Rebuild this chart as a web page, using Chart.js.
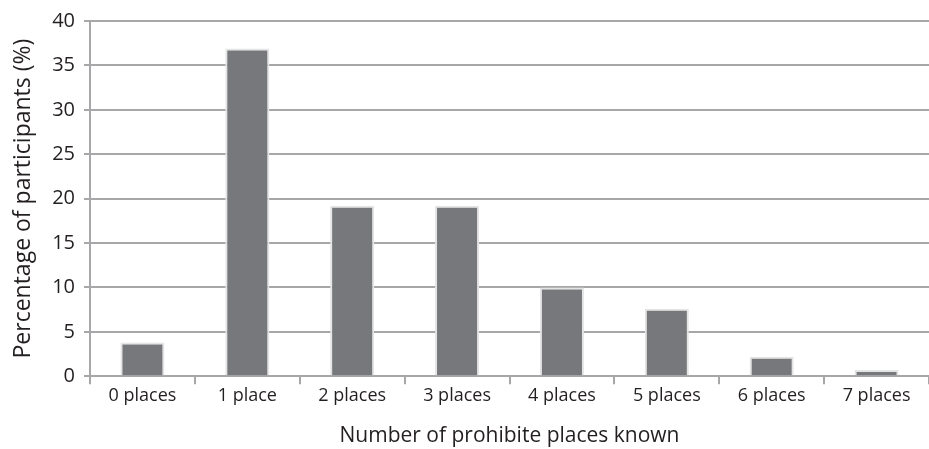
<!DOCTYPE html>
<html>
<head>
<meta charset="utf-8">
<script src="https://cdn.jsdelivr.net/npm/chart.js@4.4.1/dist/chart.umd.min.js"></script>
<style>
	html, body { margin: 0; padding: 0; background: #fff; }
	#wrap { width: 929px; height: 449px; position: relative; }
</style>
</head>
<body>
<div id="wrap"><canvas id="canvas"></canvas></div>
<script>
var categories = ["0 places", "1 place", "2 places", "3 places", "4 places", "5 places", "6 places", "7 places"];
var percentages = [3.8, 36.9, 19.2, 19.2, 10.0, 7.6, 2.2, 0.7];
var yTicks = [0, 5, 10, 15, 20, 25, 30, 35, 40];

var fontFamily = "'Open Sans', 'Noto Sans', sans-serif";
var gridGray = "#a7a7a9";

var ctx = document.getElementById("canvas").getContext("2d");
var chart = new Chart(ctx, {
	type: 'bar',
	data: {
		labels: categories,
		datasets: [{
			label: "Percentage of participants (%)",
			data: percentages,
			backgroundColor: "#77787b",
			borderColor: "#e4e4e4",
			borderWidth: 2,
			barPercentage: 0.42,
			categoryPercentage: 1.0
		}]
	},
	options: {
		responsive: true,
		maintainAspectRatio: false,
		animation: false,
		layout: { padding: { top: 10, right: 0, bottom: 0, left: 10 } },
		plugins: {
			legend: { display: false },
			tooltip: { enabled: false }
		},
		scales: {
			x: {
				offset: true,
				grid: {
					offset: true,
					drawOnChartArea: false,
					color: gridGray,
					lineWidth: 2,
					tickLength: 8
				},
				border: { color: gridGray, width: 2 },
				ticks: { color: "#231f20", font: { family: fontFamily, size: 18 }, padding: 1, maxRotation: 0 },
				title: {
					display: true,
					text: "Number of prohibite places known",
					color: "#231f20",
					font: { family: fontFamily, size: 21 },
					padding: { top: 16, bottom: 0 }
				}
			},
			y: {
				min: 0,
				max: 40,
				afterBuildTicks: function(scale) {
					scale.ticks = yTicks.map(function(v) { return { value: v }; });
				},
				afterFit: function(scale) { scale.width = 80; },
				grid: {
					color: gridGray,
					lineWidth: 2,
					tickLength: 6
				},
				border: { color: gridGray, width: 2 },
				ticks: { color: "#231f20", font: { family: fontFamily, size: 20 }, padding: 9 },
				title: {
					display: true,
					text: "Percentage of participants (%)",
					color: "#231f20",
					font: { family: fontFamily, size: 23 },
					padding: { top: 0, bottom: 2 }
				}
			}
		}
	}
});
</script>
</body>
</html>
